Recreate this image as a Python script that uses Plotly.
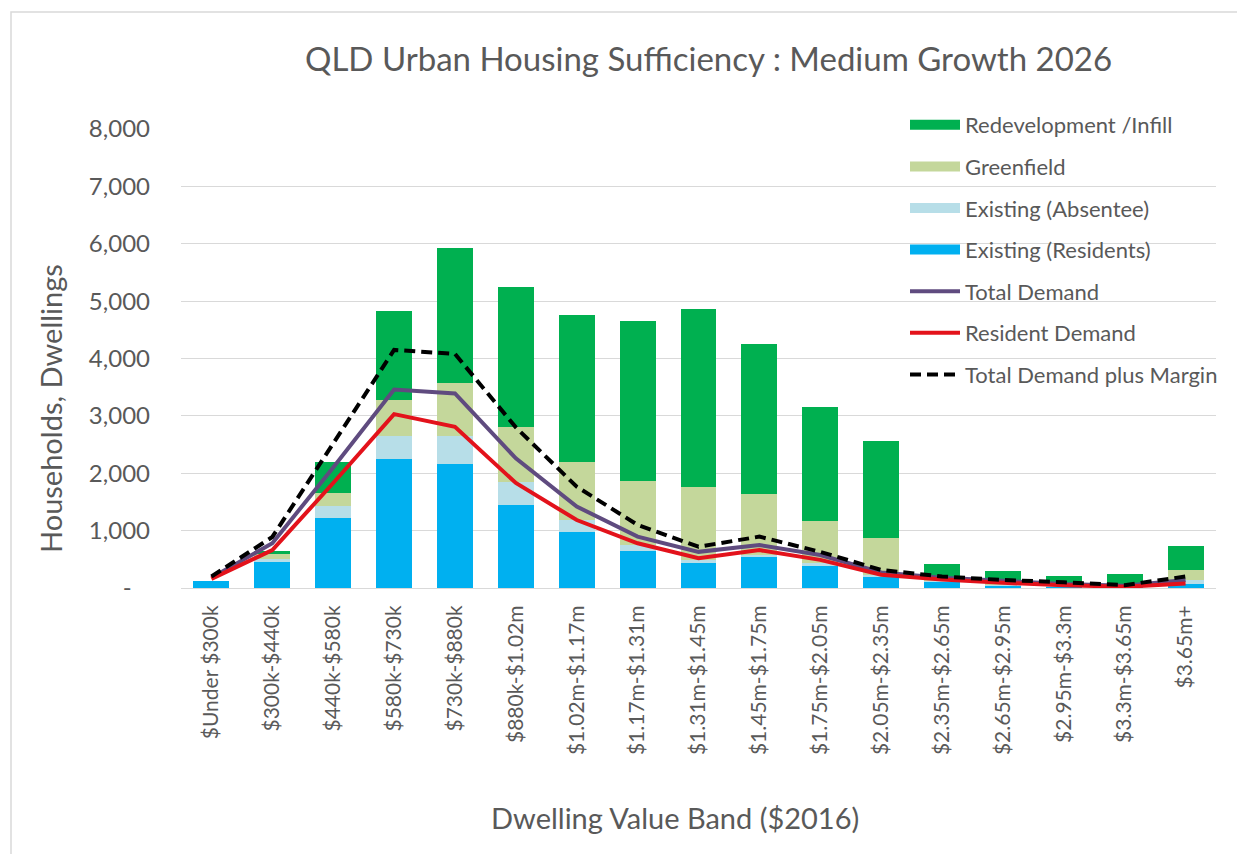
import plotly.graph_objects as go

# Dwelling value bands (2016 dollars)
categories = [
    "$Under $300k", "$300k-$440k", "$440k-$580k", "$580k-$730k", "$730k-$880k",
    "$880k-$1.02m", "$1.02m-$1.17m", "$1.17m-$1.31m", "$1.31m-$1.45m",
    "$1.45m-$1.75m", "$1.75m-$2.05m", "$2.05m-$2.35m", "$2.35m-$2.65m",
    "$2.65m-$2.95m", "$2.95m-$3.3m", "$3.3m-$3.65m", "$3.65m+",
]

# Supply components (stacked, bottom to top)
existing_residents = [120, 450, 1220, 2250, 2160, 1445, 980, 650, 430, 545, 380, 200, 110, 40, 30, 20, 65]
existing_absentee = [0, 60, 210, 400, 490, 395, 205, 100, 60, 30, 50, 25, 20, 10, 10, 5, 75]
greenfield = [0, 80, 230, 620, 930, 970, 1015, 1120, 1275, 1065, 740, 655, 70, 90, 50, 45, 170]
redevelopment_infill = [0, 60, 540, 1550, 2350, 2440, 2560, 2790, 3095, 2620, 1980, 1680, 220, 150, 120, 180, 430]

# Demand
total_demand = [180, 780, 2100, 3460, 3390, 2260, 1420, 895, 630, 750, 575, 270, 180, 130, 70, 40, 140]
resident_demand = [160, 660, 1830, 3030, 2810, 1830, 1185, 780, 520, 660, 490, 230, 150, 90, 50, 20, 80]
demand_plus_margin = [200, 890, 2520, 4150, 4080, 2800, 1765, 1100, 720, 895, 630, 315, 200, 140, 100, 50, 200]

y_ticks = [0, 1000, 2000, 3000, 4000, 5000, 6000, 7000, 8000]
y_tick_text = ["-\u00a0\u00a0\u00a0", "1,000", "2,000", "3,000", "4,000", "5,000", "6,000", "7,000", "8,000"]

FONT = "Lato"
GREY = "#595959"
GRID = "#D9D9D9"

W, H = 1237, 854
ML, MR, MT, MB = 181, 21, 129, 266
PW = W - ML - MR
PH = H - MT - MB


def px_x(px):
    return (px - ML) / PW


def px_y(py):
    return (H - MB - py) / PH


fig = go.Figure()

bar_series = [
    ("Existing (Residents)", existing_residents, "#00B0F0", 4),
    ("Existing (Absentee)", existing_absentee, "#B7DEE8", 3),
    ("Greenfield", greenfield, "#C4D79B", 2),
    ("Redevelopment /Infill", redevelopment_infill, "#00B050", 1),
]
for name, vals, color, rank in bar_series:
    fig.add_trace(go.Bar(
        x=categories, y=vals, name=name, marker=dict(color=color, line=dict(width=0)),
        legendgroup=name, showlegend=False,
    ))
    # wide swatch legend entry for the bar series
    fig.add_trace(go.Scatter(
        x=[None], y=[None], mode="lines", name=name, legendgroup=name,
        line=dict(color=color, width=12), legendrank=rank,
    ))

line_series = [
    ("Total Demand", total_demand, "#5F4B7F", "solid", 5),
    ("Resident Demand", resident_demand, "#E3121B", "solid", 6),
    ("Total Demand plus Margin", demand_plus_margin, "#000000", "11px,6px", 7),
]
for name, vals, color, dash, rank in line_series:
    fig.add_trace(go.Scatter(
        x=categories, y=vals, name=name, mode="lines", legendgroup=name,
        line=dict(color=color, width=4, dash=dash), legendrank=rank,
    ))

fig.update_layout(
    width=W, height=H,
    margin=dict(l=ML, r=MR, t=MT, b=MB),
    paper_bgcolor="white", plot_bgcolor="white",
    barmode="stack", bargap=0.41,
    font=dict(family=FONT, color=GREY),
    showlegend=True,
    legend=dict(
        x=px_x(905), y=px_y(104), xanchor="left", yanchor="top",
        bgcolor="rgba(0,0,0,0)", font=dict(size=22, color=GREY, family=FONT),
        traceorder="grouped", tracegroupgap=10, itemwidth=50,
    ),
    xaxis=dict(
        type="category", range=[-0.5, 16.5], tickangle=-90,
        tickfont=dict(size=21, color=GREY), showgrid=False,
        showline=True, linecolor=GRID, linewidth=1, ticks="", ticklabelstandoff=8,
    ),
    yaxis=dict(
        range=[0, 8000], tickvals=y_ticks, ticktext=y_tick_text,
        tickfont=dict(size=24, color=GREY), showgrid=True, gridcolor=GRID, gridwidth=1,
        zeroline=False, showline=False, ticks="", ticklabelstandoff=30,
    ),
    annotations=[
        dict(text="QLD Urban Housing Sufficiency : Medium Growth 2026",
             xref="paper", yref="paper", x=px_x(708), y=px_y(58),
             xanchor="center", yanchor="middle", showarrow=False,
             font=dict(size=33, color=GREY, family=FONT)),
        dict(text="Households, Dwellings", textangle=-90,
             xref="paper", yref="paper", x=px_x(50), y=px_y(409),
             xanchor="center", yanchor="middle", showarrow=False,
             font=dict(size=29, color=GREY, family=FONT)),
        dict(text="Dwelling Value Band ($2016)",
             xref="paper", yref="paper", x=px_x(675), y=px_y(818),
             xanchor="center", yanchor="middle", showarrow=False,
             font=dict(size=29, color=GREY, family=FONT)),
    ],
    shapes=[
        dict(type="rect", xref="paper", yref="paper",
             x0=px_x(11), x1=px_x(1250), y0=px_y(870), y1=px_y(12),
             line=dict(color=GRID, width=1.5), fillcolor="rgba(0,0,0,0)", layer="below"),
    ],
)

fig.write_html("out.html")
